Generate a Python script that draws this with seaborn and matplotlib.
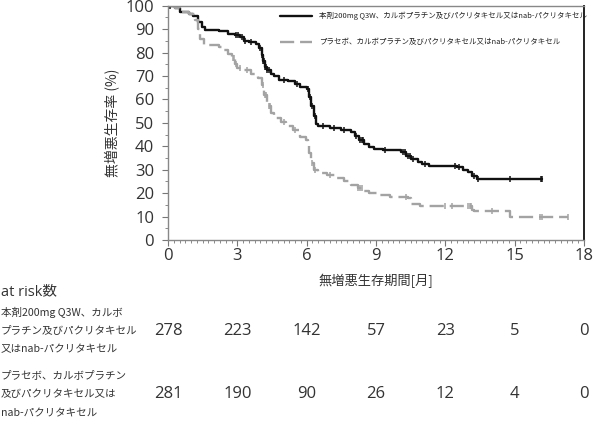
import numpy as np
import pandas as pd
import matplotlib
matplotlib.use("Agg")
import matplotlib.pyplot as plt
from matplotlib.ticker import MultipleLocator
from matplotlib.transforms import blended_transform_factory
import seaborn as sns

sns.set_theme(style="white")
plt.rcParams['font.family'] = ['Open Sans', 'Noto Sans CJK JP', 'DejaVu Sans']

# ---- data ----
label_a = "本剤200mg Q3W、カルボプラチン及びパクリタキセル又はnab-パクリタキセル"
label_b = "プラセボ、カルボプラチン及びパクリタキセル又はnab-パクリタキセル"

t_a = [0, 0.3, 0.5, 0.9, 1.1, 1.3, 1.45, 1.6, 2.2, 2.6, 2.9, 3.1, 3.3, 3.5, 3.8, 3.95,
       4.05, 4.1, 4.2, 4.3, 4.45, 4.6, 4.8, 5.2, 5.5, 5.7, 6.0, 6.1, 6.2, 6.3, 6.4, 6.5,
       7.0, 7.5, 7.9, 8.1, 8.25, 8.5, 8.7, 8.9, 9.3, 10.1, 10.3, 10.5, 10.8, 11.0, 11.3,
       12.5, 12.75, 13.0, 13.15, 13.35, 16.2]
s_a = [100, 99, 97.5, 96.5, 95.5, 93, 91, 89.6, 89, 88, 87.5, 86.5, 85, 84.5, 83.5, 82,
       79, 76.5, 74, 72.5, 71, 70, 68.5, 67.8, 66.5, 65.4, 64.6, 61, 57, 53, 49.5, 48.5,
       47.8, 47, 46, 44.5, 42.5, 41, 39.5, 38.8, 38.2, 37.5, 36, 34.7, 33.5, 32.5, 31.5,
       31, 30, 29, 27.5, 26.1, 26.1]

t_b = [0, 0.3, 0.5, 0.9, 1.15, 1.3, 1.4, 1.55, 2.2, 2.4, 2.6, 2.75, 2.9, 3.0, 3.3, 3.6,
       3.9, 4.05, 4.15, 4.3, 4.45, 4.6, 4.9, 5.1, 5.4, 5.7, 5.95, 6.05, 6.12, 6.2, 6.3,
       6.5, 6.9, 7.3, 7.6, 7.9, 8.2, 8.5, 8.7, 9.1, 9.6, 10.4, 10.5, 10.9, 13.15, 13.25,
       14.8, 17.3]
s_b = [100, 99, 97.4, 96.4, 94, 90, 86, 83.2, 82.5, 81, 79.5, 77.5, 75, 73.5, 72.5, 71,
       69, 66, 62, 57, 54, 52, 50.4, 48.5, 46.8, 44, 42.5, 41.5, 37, 33, 30,
       28.7, 27.8, 26.5, 25, 23.5, 22, 21, 20, 19.3, 18.3, 18, 15.4, 14.4, 13, 12.5,
       9.7, 9.7]

cens_a = [0.1, 2.95, 3.05, 3.2, 3.35, 3.6, 4.0, 4.05, 4.1, 4.15, 4.2, 4.25, 4.3, 4.35,
          5.0, 5.6, 6.05, 6.15, 6.25, 6.35, 6.7, 7.2, 7.6, 8.15, 8.3, 8.4, 8.45, 9.4,
          10.15, 10.25, 10.4, 10.45, 10.6, 11.1, 12.4, 12.6, 13.25, 13.4, 14.8, 16.15, 16.2]
cens_b = [2.8, 2.85, 2.95, 3.1, 3.4, 4.1, 4.2, 4.25, 4.35, 4.4, 5.0, 5.5, 6.25, 6.35, 7.0,
          8.2, 8.3, 8.4, 10.3, 12.0, 12.3, 13.0, 13.05, 13.1, 14.0, 16.1, 16.2, 17.3]

months = [0, 3, 6, 9, 12, 15, 18]
risk_a = [278, 223, 142, 57, 23, 5, 0]
risk_b = [281, 190, 90, 26, 12, 4, 0]
risk_title = "at risk数"
risk_label_a = ["本剤200mg Q3W、カルボ", "プラチン及びパクリタキセル", "又はnab-パクリタキセル"]
risk_label_b = ["プラセボ、カルボプラチン", "及びパクリタキセル又は", "nab-パクリタキセル"]

df = pd.concat([
    pd.DataFrame({"t": t_a, "s": s_a, "arm": label_a}),
    pd.DataFrame({"t": t_b, "s": s_b, "arm": label_b}),
])

def step_val(ts, ss, x):
    i = np.searchsorted(ts, x, side="right") - 1
    return np.asarray(ss)[i]

cens = pd.concat([
    pd.DataFrame({"t": cens_a, "s": step_val(t_a, s_a, cens_a), "arm": label_a}),
    pd.DataFrame({"t": cens_b, "s": step_val(t_b, s_b, cens_b), "arm": label_b}),
])

# ---- figure ----
W, H = 594, 426
fig = plt.figure(figsize=(W / 100, H / 100), dpi=100)
ax = fig.add_axes([168 / W, 1 - 240 / H, 416 / W, (240 - 5.7) / H])

black = "#111111"
gray = "#a3a3a3"

sns.lineplot(data=df[df.arm == label_a], x="t", y="s", drawstyle="steps-post",
             color=black, lw=1.7, ax=ax, label=label_a, estimator=None)
sns.lineplot(data=df[df.arm == label_b], x="t", y="s", drawstyle="steps-post",
             color=gray, lw=1.7, ax=ax, label=label_b, estimator=None,
             linestyle=(0, (6, 2.5)))
ax.plot(cens[cens.arm == label_a].t, cens[cens.arm == label_a].s, ls="none",
        marker="|", ms=5, mew=1.1, color=black)
ax.plot(cens[cens.arm == label_b].t, cens[cens.arm == label_b].s, ls="none",
        marker="|", ms=5, mew=1.1, color=gray)

ax.set_xlim(0, 18)
ax.set_ylim(0, 100)
ax.set_xticks(months)
ax.set_yticks(range(0, 101, 10))
ax.xaxis.set_minor_locator(MultipleLocator(0.25))
ax.yaxis.set_minor_locator(MultipleLocator(5))
ax.tick_params(axis="both", which="major", length=4, width=0.8, color="#777777",
               labelsize=12, labelcolor="#333333", direction="out")
ax.tick_params(axis="both", which="minor", length=2, width=0.6, color="#777777",
               direction="out")
ax.tick_params(axis="x", pad=2)
ax.tick_params(axis="y", pad=6)
ax.tick_params(bottom=True, left=True, which="both")

for side in ["left", "bottom", "top"]:
    ax.spines[side].set_color("#888888")
    ax.spines[side].set_linewidth(1.0)
ax.spines["right"].set_color("#222222")
ax.spines["right"].set_linewidth(1.4)

ax.set_xlabel("無増悪生存期間[月]", fontsize=9.5, color="#333333", labelpad=7,
              family=['Noto Sans CJK JP', 'DejaVu Sans'])
ax.set_ylabel("無増悪生存率 (%)", fontsize=10, color="#333333", labelpad=4,
              family=['Noto Sans CJK JP', 'DejaVu Sans'])

leg = ax.legend(loc="upper left", bbox_to_anchor=((280 - 168) / 416, (240 - 12) / 234.3),
                frameon=False, handlelength=4.2, handletextpad=1.0,
                labelspacing=2.4, borderaxespad=0.0, borderpad=0.0,
                prop={"family": ['Noto Sans CJK JP', 'DejaVu Sans'], "size": 5.4})
for t in leg.get_texts():
    t.set_color("#222222")

# ---- at risk table ----
tr = blended_transform_factory(ax.transData, fig.transFigure)
txt = "#333333"
fam_jp = ['Noto Sans CJK JP', 'DejaVu Sans']
fig.text(1 / W, 1 - 292 / H, risk_title, fontsize=10.5, color=txt,
         va="center", ha="left", family=['Open Sans', 'Noto Sans CJK JP'])
for lines, ys in ((risk_label_a, (312, 331, 349)), (risk_label_b, (375, 394, 413))):
    for line, yy in zip(lines, ys):
        fig.text(1 / W, 1 - yy / H, line, fontsize=7.6, color=txt,
                 va="center", ha="left", family=fam_jp)
for m, ra, rb in zip(months, risk_a, risk_b):
    fig.text(m, 1 - 331 / H, str(ra), transform=tr, ha="center", va="center",
             fontsize=12, color=txt, family=['Open Sans'])
    fig.text(m, 1 - 394 / H, str(rb), transform=tr, ha="center", va="center",
             fontsize=12, color=txt, family=['Open Sans'])

fig.savefig("out.png", dpi=100)
